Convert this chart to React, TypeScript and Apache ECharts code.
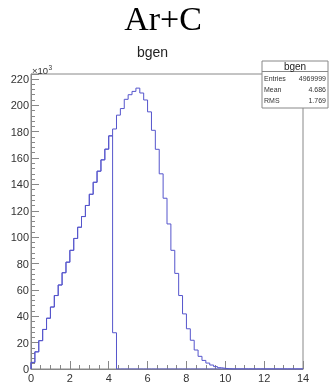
import React, { useEffect, useRef } from "react";
import * as echarts from "echarts";

const titleText = "Ar+C";
const histName = "bgen";
const binWidth = 0.2;
const xMin = 0;
const xMax = 14;
const yMax = 223.7;
const xInterval = 2;
const yInterval = 20;

// bin contents (x10^3), 70 bins of 0.2 from 0 to 14
const mainCounts = [
  5, 13, 21.5, 30, 38.5, 47, 55.7, 63.7, 73, 81,
  90, 99, 107.5, 115.6, 124, 132.5, 141.6, 150, 158.6, 166.7,
  176.8, 182, 192.5, 197.5, 204.5, 208, 210.5, 213, 209.3, 204,
  195, 181, 166.6, 148, 129.5, 110, 90, 72.5, 55.7, 41.8,
  30.5, 21.8, 14.4, 9.6, 6.5, 4.5, 3, 1.8, 1, 0.5,
  0.2, 0, 0, 0, 0, 0, 0, 0, 0, 0,
  0, 0, 0, 0, 0, 0, 0, 0, 0, 0,
];
// second overlaid histogram: same up to bin 20, then one low bin and empty
const cutIndex = 21;
const cutLastBin = 27.5;
const cutCounts = mainCounts.map((v, i) => (i < cutIndex ? v : i === cutIndex ? cutLastBin : 0));

const statsLabels = ["Entries", "Mean", "RMS"];
const statsValues = ["4969999", "4.686", "1.769"];

function toSteps(counts: number[]) {
  const pts: number[][] = [[xMin, 0]];
  counts.forEach((c, i) => {
    const lo = +(xMin + i * binWidth).toFixed(4);
    const hi = +(xMin + (i + 1) * binWidth).toFixed(4);
    pts.push([lo, c], [hi, c]);
  });
  pts.push([xMax, 0]);
  return pts;
}

const LINE = "#5555cc";
const AXIS = "#888";
const LABEL = "#333";
const SANS = "Liberation Sans, Arial, sans-serif";

export default function App() {
  const ref = useRef<HTMLDivElement>(null);
  useEffect(() => {
    if (!ref.current) return;
    const chart = echarts.init(ref.current, undefined, { renderer: "svg" });
    const boxX = 262, boxY = 61, boxW = 66, boxH = 47;
    const statTexts: any[] = [];
    statsLabels.forEach((l, i) => {
      const y = 78.5 + i * 11;
      statTexts.push({
        type: "text", x: boxX + 2, y,
        style: { text: l, fontSize: 7, fontFamily: SANS, fill: "#333", align: "left", verticalAlign: "middle" },
      });
      statTexts.push({
        type: "text", x: boxX + boxW - 2, y,
        style: { text: statsValues[i], fontSize: 7, fontFamily: SANS, fill: "#333", align: "right", verticalAlign: "middle" },
      });
    });
    chart.setOption({
      animation: false,
      grid: {
        left: 31, top: 74, width: 272, height: 295,
        show: true, borderColor: AXIS, borderWidth: 1, backgroundColor: "transparent",
      },
      xAxis: {
        type: "value", min: xMin, max: xMax, interval: xInterval,
        axisLine: { show: true, lineStyle: { color: AXIS, width: 1 } },
        axisTick: { show: true, inside: true, length: 8, lineStyle: { color: AXIS } },
        minorTick: { show: true, splitNumber: 4, length: 4, lineStyle: { color: AXIS } },
        splitLine: { show: false },
        axisLabel: { fontSize: 11, fontFamily: SANS, color: LABEL, margin: 3 },
      },
      yAxis: {
        type: "value", min: 0, max: yMax, interval: yInterval,
        axisLine: { show: true, lineStyle: { color: AXIS, width: 1 } },
        axisTick: { show: true, inside: true, length: 8, lineStyle: { color: AXIS } },
        minorTick: { show: true, splitNumber: 5, length: 4, lineStyle: { color: AXIS } },
        splitLine: { show: false },
        axisLabel: {
          fontSize: 11, fontFamily: SANS, color: LABEL, margin: 2, showMaxLabel: false,
          formatter: (v: number) => (Math.abs(v % yInterval) < 1e-6 ? String(v) : ""),
        },
      },
      series: [
        {
          type: "line", data: toSteps(mainCounts), symbol: "none", silent: true,
          lineStyle: { color: LINE, width: 1 },
        },
        {
          type: "line", data: toSteps(cutCounts), symbol: "none", silent: true,
          lineStyle: { color: LINE, width: 1 },
        },
      ],
      graphic: [
        {
          type: "text", x: 163, y: 18,
          style: { text: titleText, fontSize: 34, fontFamily: "Liberation Serif, Times New Roman, serif", fill: "#000", align: "center", verticalAlign: "middle" },
        },
        {
          type: "text", x: 152.5, y: 52,
          style: { text: histName, fontSize: 14, fontFamily: SANS, fill: "#222", align: "center", verticalAlign: "middle" },
        },
        {
          type: "text", x: 32, y: 70.5,
          style: { text: "×10", fontSize: 9.5, fontFamily: SANS, fill: LABEL, align: "left", verticalAlign: "middle" },
        },
        {
          type: "text", x: 48.5, y: 67.5,
          style: { text: "3", fontSize: 6.5, fontFamily: SANS, fill: LABEL, align: "left", verticalAlign: "middle" },
        },
        {
          type: "rect", shape: { x: boxX, y: boxY, width: boxW, height: boxH },
          style: { fill: "#fff", stroke: AXIS, lineWidth: 1 },
        },
        {
          type: "line", shape: { x1: boxX, y1: 71.5, x2: boxX + boxW, y2: 71.5 },
          style: { stroke: AXIS, lineWidth: 1 },
        },
        {
          type: "text", x: boxX + boxW / 2, y: 66,
          style: { text: histName, fontSize: 10, fontFamily: SANS, fill: "#222", align: "center", verticalAlign: "middle" },
        },
        ...statTexts,
      ],
    });
    return () => chart.dispose();
  }, []);
  return <div ref={ref} style={{ position: "fixed", left: 0, top: 0, width: 329, height: 385 }} />;
}
